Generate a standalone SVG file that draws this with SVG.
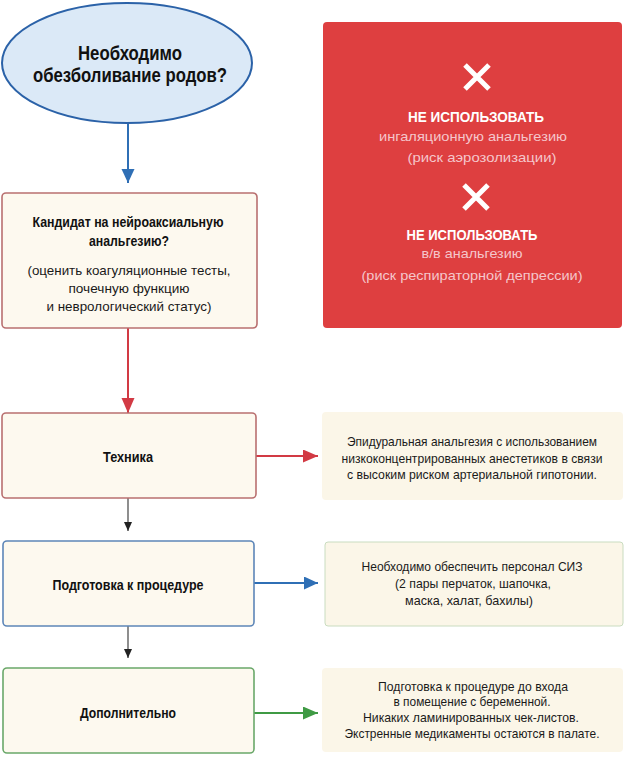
<svg xmlns="http://www.w3.org/2000/svg" width="627" height="760" viewBox="0 0 627 760">
<style>
text{font-family:"Liberation Sans",Arial,sans-serif;text-anchor:middle;}
.b{font-weight:bold;fill:#111;font-size:14.5px;}
.n{fill:#1a1a1a;font-size:13px;}
.h{font-weight:bold;fill:#111;font-size:20.5px;}
.w{font-weight:bold;fill:#fff;font-size:14px;}
.p{fill:#f5c6cb;font-size:13.5px;}
.box{fill:#fdf9ef;stroke-width:1.6;}
.side{fill:#fbf6e8;}
.x{stroke:#fff;stroke-width:5;stroke-linecap:butt;}
</style>
<defs>
<marker id="ab" markerUnits="userSpaceOnUse" markerWidth="14" markerHeight="14" refX="14" refY="6.5" orient="auto"><path d="M0,0 L14,6.5 L0,13 Z" fill="#2f6fb5"/></marker>
<marker id="ar" markerUnits="userSpaceOnUse" markerWidth="15" markerHeight="14" refX="15" refY="6.5" orient="auto"><path d="M0,0 L15,6.5 L0,13 Z" fill="#d23a44"/></marker>
<marker id="ag" markerUnits="userSpaceOnUse" markerWidth="15" markerHeight="14" refX="15" refY="6.5" orient="auto"><path d="M0,0 L15,6.5 L0,13 Z" fill="#3f9a44"/></marker>
<marker id="ak" markerUnits="userSpaceOnUse" markerWidth="10" markerHeight="10" refX="9" refY="4" orient="auto"><path d="M0,0 L9,4 L0,8 Z" fill="#222"/></marker>
</defs>

<g id="connectors" fill="none">
<line x1="128" y1="123" x2="128" y2="183" stroke="#2f6fb5" stroke-width="2" marker-end="url(#ab)"/>
<line x1="128" y1="328" x2="128" y2="413" stroke="#d23a44" stroke-width="2" marker-end="url(#ar)"/>
<line x1="128" y1="498" x2="128" y2="531" stroke="#444" stroke-width="1.2" marker-end="url(#ak)"/>
<line x1="128" y1="626" x2="128" y2="658" stroke="#444" stroke-width="1.2" marker-end="url(#ak)"/>
<line x1="256" y1="456" x2="318" y2="456" stroke="#d23a44" stroke-width="2" marker-end="url(#ar)"/>
<line x1="254" y1="583" x2="318" y2="583" stroke="#2f6fb5" stroke-width="2" marker-end="url(#ab)"/>
<line x1="254" y1="713" x2="318" y2="713" stroke="#3f9a44" stroke-width="2" marker-end="url(#ag)"/>
</g>

<g id="start">
<ellipse cx="127" cy="63" rx="125" ry="60" fill="#dbe9f7" stroke="#2b62a8" stroke-width="2"/>
<text class="h" x="130" y="60" textLength="104" lengthAdjust="spacingAndGlyphs">Необходимо</text>
<text class="h" x="130" y="82" textLength="194" lengthAdjust="spacingAndGlyphs">обезболивание родов?</text>
</g>

<g id="candidate">
<rect class="box" x="2" y="193" width="255" height="135" rx="4" stroke="#b97070"/>
<text class="b" x="128" y="227" textLength="191" lengthAdjust="spacingAndGlyphs">Кандидат на нейроаксиальную</text>
<text class="b" x="129" y="246" textLength="80" lengthAdjust="spacingAndGlyphs">анальгезию?</text>
<text class="n" x="129" y="275" textLength="203" lengthAdjust="spacingAndGlyphs">(оценить коагуляционные тесты,</text>
<text class="n" x="129" y="293" textLength="121" lengthAdjust="spacingAndGlyphs">почечную функцию</text>
<text class="n" x="129" y="311" textLength="165" lengthAdjust="spacingAndGlyphs">и неврологический статус)</text>
</g>

<g id="contra">
<rect x="323" y="22" width="299" height="306" rx="4" fill="#de3f40"/>
<path class="x" d="M465,65 L489,89 M489,65 L465,89"/>
<text class="w" x="476" y="122" textLength="136" lengthAdjust="spacingAndGlyphs">НЕ  ИСПОЛЬЗОВАТЬ</text>
<text class="p" x="473" y="141" textLength="188" lengthAdjust="spacingAndGlyphs">ингаляционную анальгезию</text>
<text class="p" x="482" y="162" textLength="149" lengthAdjust="spacingAndGlyphs">(риск аэрозолизации)</text>
<path class="x" d="M464,185 L488,209 M488,185 L464,209"/>
<text class="w" x="472" y="240" textLength="131" lengthAdjust="spacingAndGlyphs">НЕ ИСПОЛЬЗОВАТЬ</text>
<text class="p" x="472" y="258" textLength="101" lengthAdjust="spacingAndGlyphs">в/в анальгезию</text>
<text class="p" x="472" y="280" textLength="221" lengthAdjust="spacingAndGlyphs">(риск респираторной депрессии)</text>
</g>

<g id="technique">
<rect class="box" x="2" y="413" width="254" height="85" rx="4" stroke="#b97070"/>
<text class="b" x="128" y="462" textLength="50" lengthAdjust="spacingAndGlyphs">Техника</text>
</g>

<g id="technique-note">
<rect class="side" x="322" y="412" width="301" height="88" rx="4"/>
<text class="n" x="472" y="446" textLength="250" lengthAdjust="spacingAndGlyphs">Эпидуральная анальгезия с использованием</text>
<text class="n" x="472" y="463" textLength="261" lengthAdjust="spacingAndGlyphs">низкоконцентрированных анестетиков в связи</text>
<text class="n" x="472" y="479" textLength="250" lengthAdjust="spacingAndGlyphs">с высоким риском артериальной гипотонии.</text>
</g>

<g id="prep">
<rect class="box" x="3" y="541" width="251" height="85" rx="4" stroke="#5d86b8"/>
<text class="b" x="128" y="590" textLength="151" lengthAdjust="spacingAndGlyphs">Подготовка к процедуре</text>
</g>

<g id="prep-note">
<rect class="side" x="325" y="542" width="298" height="84" rx="3" stroke="#c9dcc0" stroke-width="1"/>
<text class="n" x="472" y="571" textLength="221" lengthAdjust="spacingAndGlyphs">Необходимо обеспечить персонал СИЗ</text>
<text class="n" x="473" y="588" textLength="156" lengthAdjust="spacingAndGlyphs">(2 пары перчаток, шапочка,</text>
<text class="n" x="469" y="605" textLength="128" lengthAdjust="spacingAndGlyphs">маска, халат, бахилы)</text>
</g>

<g id="extra">
<rect class="box" x="3" y="668" width="251" height="85" rx="4" stroke="#6aa86a"/>
<text class="b" x="128" y="718" textLength="96" lengthAdjust="spacingAndGlyphs">Дополнительно</text>
</g>

<g id="extra-note">
<rect class="side" x="322" y="668" width="301" height="84" rx="4"/>
<text class="n" x="473" y="691" textLength="190" lengthAdjust="spacingAndGlyphs">Подготовка к процедуре до входа</text>
<text class="n" x="472" y="706" textLength="157" lengthAdjust="spacingAndGlyphs">в помещение с беременной.</text>
<text class="n" x="471" y="722" textLength="216" lengthAdjust="spacingAndGlyphs">Никаких ламинированных чек-листов.</text>
<text class="n" x="472" y="738" textLength="255" lengthAdjust="spacingAndGlyphs">Экстренные медикаменты остаются в палате.</text>
</g>
</svg>
